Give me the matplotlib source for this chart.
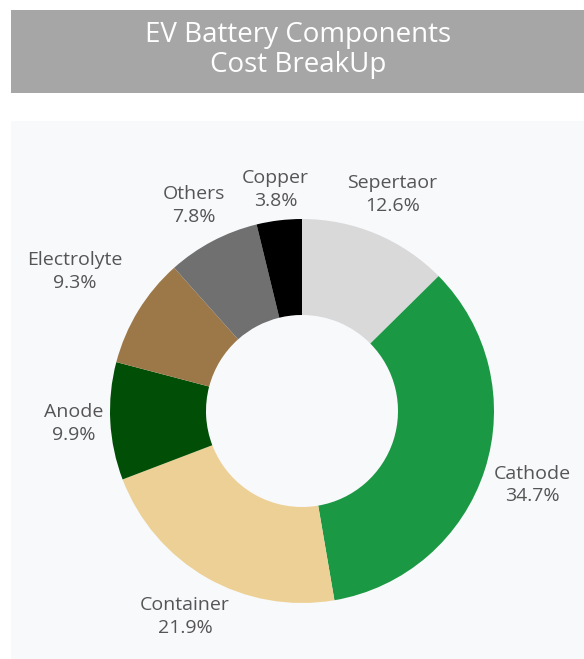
import numpy as np
import matplotlib
matplotlib.use("Agg")
import matplotlib.pyplot as plt
from matplotlib.patches import Rectangle

# Component shares (percent), clockwise from 12 o'clock
components = ["Sepertaor", "Cathode", "Container", "Anode", "Electrolyte", "Others", "Copper"]
shares = [12.6, 34.7, 21.9, 9.9, 9.3, 7.8, 3.8]
colors = ["#d9d9d9", "#1a9843", "#edd095", "#014f07", "#9c7848", "#707070", "#000000"]
label_dist = [1.22, 1.26, 1.23, 1.19, 1.39, 1.21, 1.16]

W, H = 584, 659
fig = plt.figure(figsize=(W / 100, H / 100), dpi=100)
fig.patch.set_facecolor("white")
ax = fig.add_axes([0, 0, 1, 1])
ax.set_xlim(0, W)
ax.set_ylim(0, H)
ax.set_aspect("equal")
ax.axis("off")

font = "Open Sans"

# title banner
ax.add_patch(Rectangle((11, H - 93), W - 11, 83, facecolor="#a6a6a6", edgecolor="none"))
ax.text(298, H - 35, "EV Battery Components", ha="center", va="center",
        color="white", fontsize=20, family=font)
ax.text(298, H - 65, "Cost BreakUp", ha="center", va="center",
        color="white", fontsize=20, family=font)

# chart panel
panel_bg = "#f8f9fb"
ax.add_patch(Rectangle((11, 0), W - 11, H - 121, facecolor=panel_bg, edgecolor="none"))

cx, cy, R = 302, H - 411, 192
wedges, _ = ax.pie(shares, colors=colors, startangle=90, counterclock=False,
                   center=(cx, cy), radius=R,
                   wedgeprops=dict(width=96, edgecolor="none"))
ax.set_xlim(0, W)
ax.set_ylim(0, H)

for w, name, val, d in zip(wedges, components, shares, label_dist):
    mid = np.deg2rad((w.theta1 + w.theta2) / 2)
    x = cx + d * R * np.cos(mid)
    y = cy + d * R * np.sin(mid)
    ax.text(x, y, f"{name}\n{val}%", ha="center", va="center",
            color="#555555", fontsize=14, family=font, linespacing=1.35)

fig.savefig("out.png", dpi=100, facecolor=fig.get_facecolor())
